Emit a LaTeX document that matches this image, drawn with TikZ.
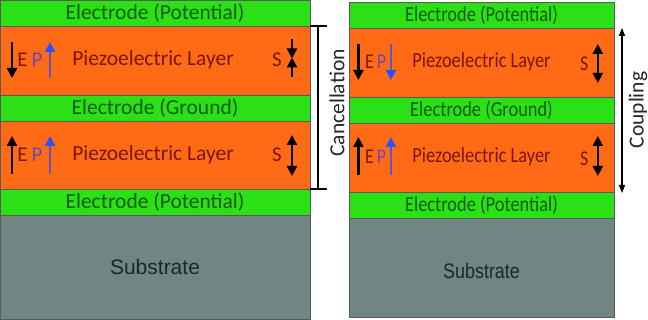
\documentclass[tikz,border=0pt]{standalone}
\usepackage{fontspec}
\setmainfont{Carlito}
\newfontfamily\arialf{Liberation Sans}
\usepackage{tikz}
\usetikzlibrary{arrows.meta,positioning}

\definecolor{elecgreen}{RGB}{44,224,22}
\definecolor{piezoorange}{RGB}{255,106,20}
\definecolor{subsgrey}{RGB}{112,134,130}
\definecolor{electext}{RGB}{18,92,22}
\definecolor{piezotext}{RGB}{122,22,12}
\definecolor{substext}{RGB}{26,40,40}
\definecolor{ptext}{RGB}{112,72,176}
\definecolor{pblue}{RGB}{40,82,255}
\definecolor{pshaft}{RGB}{98,84,196}

\begin{document}
\begin{tikzpicture}[x=1pt, y=-1pt, every node/.style={inner sep=0pt},
    elec/.style={fill=elecgreen, draw=black!65, line width=0.6pt},
    piezo/.style={fill=piezoorange, draw=black!65, line width=0.6pt},
    subs/.style={fill=subsgrey, draw=black!65, line width=0.6pt},
    etxt/.style={text=electext, font=\fontsize{21.5}{25}\selectfont},
    ptxt/.style={text=piezotext, font=\fontsize{21.5}{25}\selectfont},
    stxt/.style={text=substext, font=\arialf\fontsize{21}{25}\selectfont},
    sym/.style={text=piezotext, font=\fontsize{21}{24}\selectfont},
    field/.style={line width=2.4pt, draw=black, -{Triangle[length=10pt,width=10pt]}},
    pol/.style={line width=2.4pt, draw=pshaft, -{Triangle[length=10pt,width=10pt,color=pblue]}},
    strain/.style={line width=2.2pt, draw=black, {Triangle[length=10pt,width=10pt]}-{Triangle[length=10pt,width=10pt]}},
    side/.style={text=black!85, font=\fontsize{21.5}{25}\selectfont, rotate=90}]
    \useasboundingbox (0,0) rectangle (648,320);

    % left stack
    \foreach \ya/\yb/\lay in {0/26/elec, 26/95/piezo, 95/121/elec, 121/189/piezo, 189/215/elec, 215/319/subs}{
      \draw[\lay] (0,\ya) rectangle (310,\yb);
    }
    \node[etxt] (eTopL) at (155,13) {Electrode (Potential)};
    \node[ptxt] (pzUpL) at (153,60) {Piezoelectric Layer};
    \node[etxt] (eMidL) at (155,108) {Electrode (Ground)};
    \node[ptxt] (pzLowL) at (153,155) {Piezoelectric Layer};
    \node[etxt] (eBotL) at (155,202) {Electrode (Potential)};
    \node[stxt] (subL) at (155,267) {Substrate};
    \node[sym] (eUpL) at (22.5,60) {E};
    \node[sym, text=ptext] (pUpL) at (37,60) {P};
    \node[sym] (sUpL) at (277,60) {S};
    \node[sym] (eLowL) at (22.5,155) {E};
    \node[sym, text=ptext] (pLowL) at (37,155) {P};
    \node[sym] (sLowL) at (277,155) {S};
    \draw[field] (12,42) -- (12,78);
    \draw[pol] (50,78) -- (50,42);
    \draw[field] (12,174) -- (12,136);
    \draw[pol] (50,174) -- (50,136);
    \draw[field, line width=2.2pt] (292,39) -- (292,58.5);
    \draw[field, line width=2.2pt] (292,77) -- (292,57.5);
    \draw[strain] (292,135) -- (292,176);

    % right stack
    \begin{scope}[shift={(349,2)}, xscale=0.855, every node/.append style={transform shape}]
      \foreach \ya/\yb/\lay in {0/26/elec, 26/95/piezo, 95/121/elec, 121/190/piezo, 190/216/elec, 216/315/subs}{
        \draw[\lay] (0,\ya) rectangle (310,\yb);
      }
      \node[etxt] (eTopR) at (155,13) {Electrode (Potential)};
      \node[ptxt] (pzUpR) at (155,60) {Piezoelectric Layer};
      \node[etxt] (eMidR) at (155,108) {Electrode (Ground)};
      \node[ptxt] (pzLowR) at (155,155) {Piezoelectric Layer};
      \node[etxt] (eBotR) at (155,203) {Electrode (Potential)};
      \node[stxt] (subR) at (155,269) {Substrate};
      \node[sym] (eUpR) at (24,60) {E};
      \node[sym, text=ptext] (pUpR) at (38,60) {P};
      \node[sym] (sUpR) at (275,62) {S};
      \node[sym] (eLowR) at (24,155) {E};
      \node[sym, text=ptext] (pLowR) at (38,155) {P};
      \node[sym] (sLowR) at (275,157) {S};
      \draw[field] (11,42) -- (11,78);
      \draw[pol] (49,42) -- (49,78);
      \draw[field] (11,173) -- (11,135);
      \draw[pol] (49,173) -- (49,135);
      \draw[strain] (291,42) -- (291,81);
      \draw[strain] (291,134) -- (291,174);
    \end{scope}

    % cancellation bracket
    \coordinate (cancTop) at (318,26);
    \coordinate (cancBot) at (318,189);
    \draw[line width=1.1pt] (cancTop) -- (cancBot);
    \draw[line width=1.1pt] ([xshift=-8pt]cancTop) -- ([xshift=9pt]cancTop);
    \draw[line width=1.1pt] ([xshift=-8pt]cancBot) -- ([xshift=9pt]cancBot);
    \node[side] (canc) at (337,103) {Cancellation};

    % coupling arrow
    \coordinate (coupTop) at (622,28);
    \coordinate (coupBot) at (622,193);
    \draw[line width=1.1pt, {Triangle[length=8pt,width=6pt]}-{Triangle[length=8pt,width=6pt]}] (coupTop) -- (coupBot);
    \node[side] (coup) at (638,110) {Coupling};
\end{tikzpicture}
\end{document}
